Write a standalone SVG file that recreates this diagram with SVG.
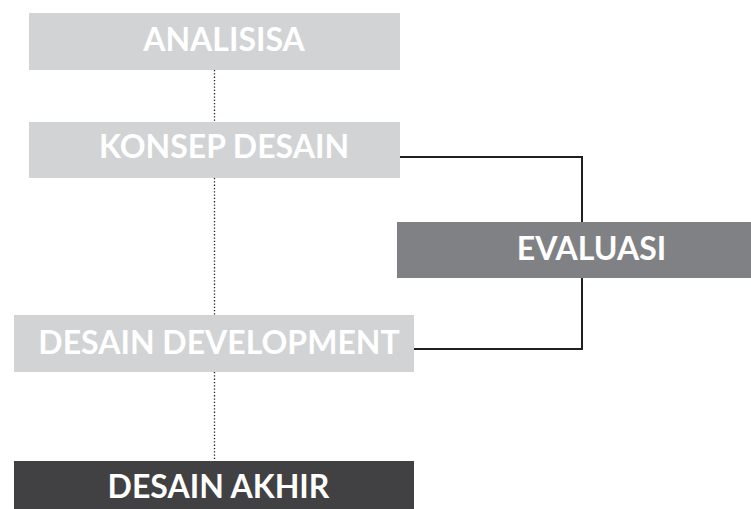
<svg xmlns="http://www.w3.org/2000/svg" width="751" height="509" viewBox="0 0 751 509">
  <style>
    .lbl { font-family: Lato, "Open Sans", "Liberation Sans", sans-serif; font-weight: 700; font-size: 32px; fill: #ffffff; text-anchor: middle; }
    .light { fill: #d1d3d4; }
    .mid { fill: #808184; }
    .dark { fill: #414042; }
    .link { fill: none; stroke: #231f20; stroke-width: 2; }
    .dots { fill: none; stroke: #231f20; stroke-width: 1.3; stroke-dasharray: 1.3 2; }
  </style>
  <rect width="751" height="509" fill="#ffffff"/>

  <g id="connectors">
    <line class="dots" x1="214.5" y1="70" x2="214.5" y2="122"/>
    <line class="dots" x1="214.5" y1="178" x2="214.5" y2="315"/>
    <line class="dots" x1="214.5" y1="372" x2="214.5" y2="461"/>
    <polyline class="link" points="400,157 582,157 582,222"/>
    <polyline class="link" points="582,278 582,349 414,349"/>
  </g>

  <g id="analisisa">
    <rect class="light" x="29" y="13" width="371" height="57"/>
    <text class="lbl" x="224" y="50.5">ANALISISA</text>
  </g>

  <g id="konsep-desain">
    <rect class="light" x="29" y="122" width="371" height="56"/>
    <text class="lbl" x="224" y="157.5">KONSEP DESAIN</text>
  </g>

  <g id="evaluasi">
    <rect class="mid" x="397" y="222" width="354" height="56"/>
    <text class="lbl" x="591.5" y="259.5">EVALUASI</text>
  </g>

  <g id="desain-development">
    <rect class="light" x="14" y="315" width="400" height="57"/>
    <text class="lbl" x="219" y="353.5">DESAIN DEVELOPMENT</text>
  </g>

  <g id="desain-akhir">
    <rect class="dark" x="14" y="461" width="400" height="48"/>
    <text class="lbl" x="218.5" y="497.5">DESAIN AKHIR</text>
  </g>
</svg>
